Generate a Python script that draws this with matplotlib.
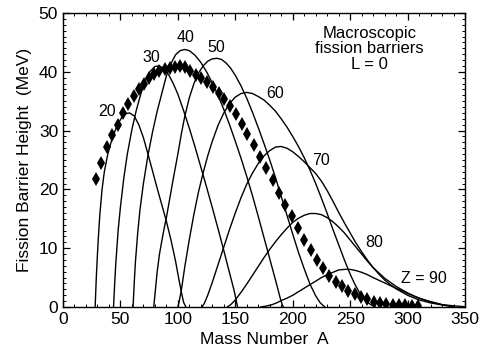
import matplotlib
matplotlib.use("Agg")
import matplotlib.pyplot as plt
from matplotlib.ticker import MultipleLocator

plt.rcParams['font.family'] = ['Liberation Sans', 'DejaVu Sans']

# Macroscopic barrier for fixed proton number Z as a function of mass number A
A20 = [28, 29, 30, 31, 32, 34, 36, 39, 43, 47, 51, 55, 58, 62, 66, 70, 74, 78, 82, 86, 90, 94, 98, 101, 103, 105, 107]
E20 = [0, 5, 9, 12.5, 15.5, 20, 23, 26, 28.8, 30.8, 32.2, 32.9, 33.0, 32.5, 31.0, 28.8, 26.0, 23.1, 20.2, 17.4, 14.6, 11.4, 7.8, 4.6, 2.6, 0.8, 0]

A30 = [44, 45, 46, 48, 50, 53, 56, 60, 64, 68, 72, 76, 80, 84, 88, 92, 96, 100, 105, 110, 115, 120, 125, 130, 135, 140, 145, 149, 152]
E30 = [0, 4, 7.5, 13, 17, 22, 26, 30.2, 33.6, 36.4, 38.6, 40.1, 40.9, 41.0, 40.5, 39.5, 38.0, 36.2, 33.4, 30.4, 27.2, 23.8, 20.4, 16.9, 13.3, 9.6, 5.8, 2.8, 0]

A40 = [61, 62, 63, 65, 67, 70, 74, 78, 82, 86, 90, 94, 98, 102, 106, 110, 115, 120, 125, 130, 135, 140, 145, 150, 155, 160, 165, 170, 175, 180, 185, 189, 191, 192]
E40 = [0, 4, 7.5, 12.5, 16.5, 21, 25.8, 29.8, 33.3, 36.3, 39.3, 41.4, 42.9, 43.6, 43.8, 43.6, 42.8, 41.6, 40.0, 38.1, 36.0, 33.6, 31.0, 28.2, 25.3, 22.2, 18.9, 15.4, 11.8, 8.2, 4.6, 1.6, 0.3, 0]

A50 = [79, 80, 82, 84, 86, 88, 90, 93, 96, 100, 103, 106, 110, 114, 118, 122, 126, 130, 134, 138, 142, 146, 150, 155, 160, 165, 170, 175, 180, 185, 190, 195, 200, 205, 210, 215, 220, 224, 228]
E50 = [0, 2, 6, 9, 11.2, 13.3, 15.2, 18.5, 21.8, 26, 29.4, 32.4, 35.6, 38.0, 39.8, 41.0, 41.8, 42.2, 42.3, 42.1, 41.5, 40.6, 39.4, 37.6, 35.5, 33.1, 30.5, 27.8, 25.0, 22.0, 18.8, 15.6, 12.4, 9.3, 6.5, 3.9, 1.9, 0.7, 0]

A60 = [100, 101, 103, 106, 110, 114, 118, 122, 126, 130, 135, 140, 145, 150, 155, 160, 165, 170, 175, 180, 185, 190, 195, 200, 205, 210, 215, 220, 225, 230, 235, 240, 245, 250, 254, 258, 263, 268, 272]
E60 = [0, 0.8, 2.8, 6.8, 11.5, 15.8, 19.6, 22.8, 25.7, 28.2, 30.9, 33.0, 34.6, 35.7, 36.3, 36.5, 36.3, 35.8, 35.2, 34.3, 33.3, 32.0, 30.6, 29.0, 27.3, 25.4, 23.3, 21.0, 18.5, 15.9, 13.2, 10.6, 8.0, 5.6, 3.9, 2.5, 1.1, 0.4, 0]

A70 = [121, 123, 126, 130, 135, 140, 145, 150, 155, 160, 165, 170, 175, 180, 185, 190, 195, 200, 205, 210, 215, 220, 225, 230, 235, 240, 245, 250, 255, 260, 265, 270, 275, 280, 285, 290, 300, 310, 320, 330, 340]
E70 = [0, 0.6, 2.0, 4.2, 7.2, 10.2, 13.2, 16.0, 18.6, 20.9, 22.8, 24.4, 25.7, 26.6, 27.2, 27.3, 27.0, 26.4, 25.6, 24.7, 23.7, 22.7, 21.4, 19.8, 18.0, 16.1, 14.3, 12.6, 10.9, 9.4, 8.0, 6.7, 5.6, 4.6, 3.8, 3.1, 2.0, 1.2, 0.7, 0.35, 0.1]

A80 = [143, 146, 150, 155, 160, 165, 170, 175, 180, 185, 190, 195, 200, 205, 210, 215, 220, 225, 230, 235, 240, 245, 250, 255, 260, 265, 270, 280, 290, 300, 310, 320, 330, 340]
E80 = [0, 0.4, 1.2, 2.5, 3.9, 5.4, 6.9, 8.4, 9.8, 11.1, 12.3, 13.4, 14.4, 15.1, 15.6, 15.9, 15.9, 15.7, 15.2, 14.5, 13.6, 12.6, 11.4, 10.2, 9.0, 7.8, 6.7, 4.9, 3.5, 2.4, 1.5, 0.9, 0.4, 0]

A90 = [172, 178, 182, 186, 190, 195, 200, 205, 210, 215, 220, 225, 230, 235, 240, 245, 250, 255, 260, 265, 270, 280, 290, 300, 310, 320, 330, 340, 350]
E90 = [0, 0.2, 0.4, 0.7, 1.1, 1.5, 2.0, 2.6, 3.2, 3.8, 4.4, 5.0, 5.5, 5.9, 6.3, 6.4, 6.4, 6.2, 5.9, 5.5, 5.0, 4.1, 3.2, 2.3, 1.5, 0.9, 0.4, 0.2, 0.05]

curves = [(A20, E20), (A30, E30), (A40, E40), (A50, E50),
          (A60, E60), (A70, E70), (A80, E80), (A90, E90)]

# Barriers along the line of beta stability
A_stable = [29, 33.5, 38.5, 43, 47.5, 52, 57, 61.5, 66, 70.5, 75, 79.5, 84, 88.5, 93, 97.5,
            102, 106.5, 111, 116, 120.5, 125.5, 130.5, 135.5, 140.5, 145.5, 150.5, 155.5,
            160.5, 166, 171.5, 177, 182.5, 188, 193.5, 199, 204.5, 210, 215.5, 221, 226.5,
            232, 237.5, 243, 248.5, 254, 259.5, 265, 270.5, 276, 281.5, 287, 292.5, 298,
            303.5, 309]
E_stable = [21.8, 24.5, 27.2, 29.3, 31.0, 33.0, 34.6, 35.8, 37.0, 38.0, 39.0, 39.6, 40.1,
            40.4, 40.7, 40.9, 41.0, 40.9, 40.2, 39.5, 38.9, 38.2, 37.4, 36.4, 35.3, 34.2,
            32.9, 31.1, 29.5, 27.5, 25.5, 23.6, 21.6, 19.4, 17.3, 15.4, 13.4, 11.4, 9.7,
            8.0, 6.6, 5.3, 4.3, 3.5, 2.8, 2.2, 1.7, 1.3, 0.9, 0.7, 0.5, 0.4, 0.3, 0.3, 0.2, 0.2]

curve_labels = ['20', '30', '40', '50', '60', '70', '80', 'Z = 90']
label_pos = [(38.5, 33.2), (77, 42.5), (106.5, 45.8), (133, 44.2),
             (185, 36.3), (225, 25), (271, 11), (314, 4.8)]

fig = plt.figure(figsize=(4.79, 3.56), dpi=100)
ax = fig.add_axes([0.1315, 0.1376, 0.8393, 0.8259])

for A, E in curves:
    ax.plot(A, E, color='black', lw=1.0)

ax.plot(A_stable, E_stable, linestyle='none', marker='d', color='black',
        markersize=7, markeredgewidth=0)

for txt, (x, y) in zip(curve_labels, label_pos):
    ax.text(x, y, txt, fontsize=11.5, ha='center', va='center')

ax.text(267, 43.9, 'Macroscopic\nfission barriers\nL = 0', fontsize=12,
        ha='center', va='center', linespacing=1.05)

ax.set_xlim(0, 350)
ax.set_ylim(0, 50)
ax.xaxis.set_major_locator(MultipleLocator(50))
ax.xaxis.set_minor_locator(MultipleLocator(10))
ax.yaxis.set_major_locator(MultipleLocator(10))
ax.yaxis.set_minor_locator(MultipleLocator(1))
ax.tick_params(which='both', direction='in', top=True, right=True, labelsize=12.5)
ax.tick_params(which='major', length=5, width=0.9)
ax.tick_params(which='minor', length=2.5, width=0.7)
for s in ax.spines.values():
    s.set_linewidth(1.0)

ax.set_xlabel('Mass Number  A', fontsize=12.5, labelpad=4)
ax.set_ylabel('Fission Barrier Height  (MeV)', fontsize=12.5, labelpad=5)

fig.savefig('out.png', dpi=100)
